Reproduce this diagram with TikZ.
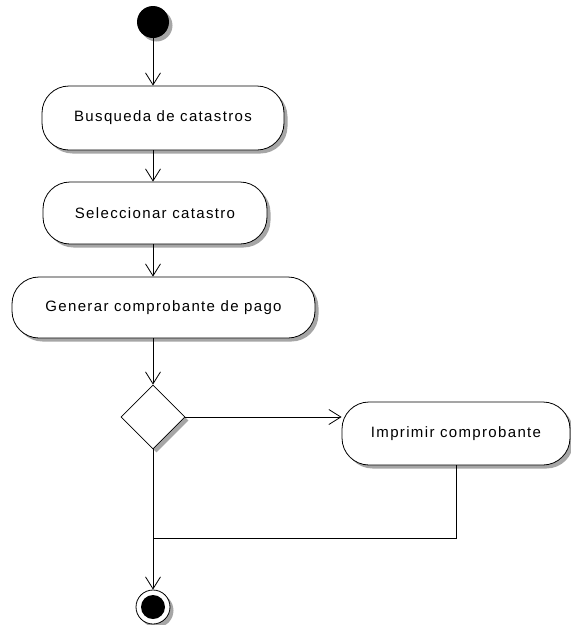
\documentclass[tikz,border=0pt]{standalone}
\usepackage{fontspec}
\newfontfamily\diagfont{Liberation Sans}[LetterSpace=9]
\usetikzlibrary{shapes.geometric,arrows.meta,shadows}

\begin{document}
\begin{tikzpicture}[
    x=1pt, y=-1pt,
    every node/.style={font=\diagfont\fontsize{15}{17}\selectfont},
    shade/.style={drop shadow={shadow xshift=3.5pt, shadow yshift=-3.5pt,
                  fill=gray!70, opacity=1}},
    activity/.style={rectangle, draw, line width=0.8pt, rounded corners=27pt,
                     fill=white, align=center, inner sep=0pt, shade},
    decision/.style={diamond, draw, line width=0.8pt, fill=white, aspect=1,
                     minimum width=64pt, minimum height=64pt, inner sep=0pt, shade},
    initial/.style={circle, fill=black, minimum size=32pt, inner sep=0pt, shade},
    final/.style={circle, draw, line width=0.8pt, fill=white, minimum size=34pt,
                  inner sep=0pt, shade},
    arr/.style={-{Straight Barb[length=12pt, width=15pt]}, line width=0.8pt},
    ln/.style={line width=0.8pt},
]
\useasboundingbox (0,0) rectangle (571,625);

% Nodes
\node[initial] (start) at (153,22) {};
\node[activity, minimum width=242pt, minimum height=64pt]
  (busq) at (163,118) {Busqueda de catastros};
\node[activity, minimum width=224pt, minimum height=62pt]
  (sel) at (155,213) {Seleccionar catastro};
\node[activity, minimum width=303pt, minimum height=61pt]
  (gen) at (163.5,307.5) {Generar comprobante de pago};
\node[decision] (dec) at (153,417) {};
\node[activity, minimum width=228pt, minimum height=63pt]
  (imp) at (456,433.5) {Imprimir comprobante};
\node[final] (fin) at (153,607) {};
\fill (fin) circle (12pt);
\coordinate (merge) at (153,538);

% Arrows
\draw[arr] (start.south) -- (start.south |- busq.north);
\draw[arr] (start.south |- busq.south) -- (start.south |- sel.north);
\draw[arr] (start.south |- sel.south) -- (start.south |- gen.north);
\draw[arr] (start.south |- gen.south) -- (dec.north);
\draw[arr] (dec.east) -- (dec.east -| imp.west);
\draw[ln]  (imp.south) |- (merge);
\draw[arr] (dec.south) -- (fin.north);

\end{tikzpicture}
\end{document}
